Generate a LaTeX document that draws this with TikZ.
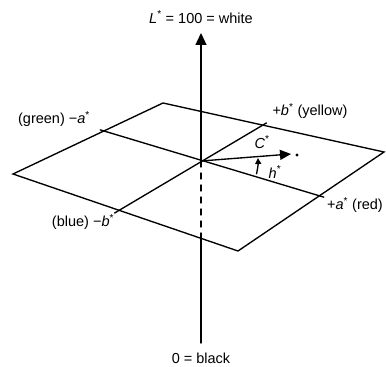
\documentclass[tikz,border=0pt]{standalone}
\usepackage{fontspec}
\setmainfont{Liberation Sans}
\usetikzlibrary{arrows.meta}
\newcommand{\starred}[1]{\textit{#1}\textsuperscript{*}}
\tikzset{
  every node/.style={font=\fontsize{14.5}{16}\selectfont, inner sep=0pt},
  % plane edges and axes
  edge/.style={line width=1.35pt, line cap=round},
  arr/.style={edge, -{Triangle[length=12pt,width=11pt]}},
  tick/.style={edge, shorten <=-4pt, shorten >=-4pt},
}

\begin{document}
\begin{tikzpicture}[x=1pt,y=1pt]
  \useasboundingbox (0,0) rectangle (386,367);

  % the a*b* plane
  \coordinate (O)    at (201,206);
  \coordinate (top)  at (163,264);
  \coordinate (rgt)  at (384,215);
  \coordinate (bot)  at (238,116);
  \coordinate (lft)  at (13,193);
  \draw[edge] (top) -- (rgt) -- (bot) -- (lft) -- cycle;

  % a* and b* axes
  \coordinate (aneg) at (104,236);
  \coordinate (apos) at (320,171);
  \coordinate (bneg) at (118,156);
  \coordinate (bpos) at (263,242);
  \draw[tick] (aneg) -- (apos);
  \draw[tick] (bneg) -- (bpos);

  % lightness axis
  \node (white) at (201,350) {\starred{L} = 100 = white};
  \node (black) at (201,9)   {0 = black};
  \coordinate (Ltop) at (201,334);
  \coordinate (Lbot) at (201,24);
  \coordinate (front) at (201,129);
  \draw[arr] (O) -- (Ltop);
  \draw[edge, dash pattern=on 6pt off 6pt] (O) -- (front);
  \draw[edge] (front) -- (Lbot);

  % chroma and hue
  \coordinate (Ctip) at (291,213);
  \draw[edge, -{Triangle[length=11pt,width=10pt]}] (O) -- (Ctip);
  \fill (297,212) circle (1.7pt);
  \draw[edge, -{Triangle[length=6pt,width=6pt]}] ([shift={(-13:57)}]O) arc[start angle=-13, end angle=3, radius=57];

  % labels
  \node (green)  at (54,248)  {(green) −\starred{a}};
  \node (yellow) at (310,256) {+\starred{b} (yellow)};
  \node (red)    at (355,162) {+\starred{a} (red)};
  \node (blue)   at (83,145)  {(blue) −\starred{b}};
  \node (C)      at (262,225) {\starred{C}};
  \node (h)      at (275,195) {\starred{h}};
\end{tikzpicture}
\end{document}
